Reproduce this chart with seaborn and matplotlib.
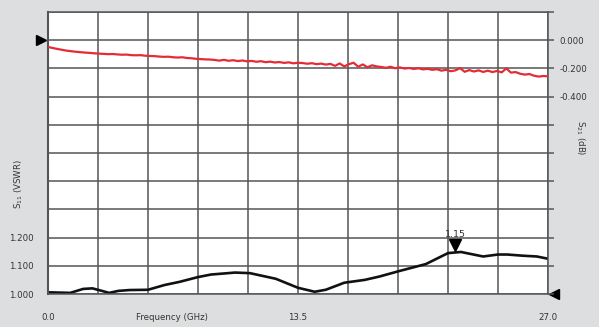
import numpy as np
import pandas as pd
import matplotlib
matplotlib.use("Agg")
import matplotlib.pyplot as plt
import matplotlib.transforms as mtransforms
import seaborn as sns

# ---------------- data ----------------
# S21 (dB), sampled every 0.25 GHz from 0 to 27 GHz
s21_step_ghz = 0.25
s21_db = [
    -0.048, -0.055, -0.062, -0.068, -0.074, -0.078, -0.082, -0.085, -0.088, -0.090, -0.093, -0.095,
    -0.097, -0.099, -0.098, -0.101, -0.103, -0.102, -0.106, -0.107, -0.106, -0.110, -0.112, -0.113,
    -0.116, -0.118, -0.117, -0.121, -0.123, -0.121, -0.126, -0.128, -0.132, -0.134, -0.136, -0.137,
    -0.140, -0.145, -0.139, -0.146, -0.142, -0.148, -0.144, -0.150, -0.147, -0.153, -0.149, -0.156,
    -0.152, -0.158, -0.155, -0.161, -0.157, -0.164, -0.160, -0.162, -0.167, -0.163, -0.170, -0.166,
    -0.173, -0.168, -0.182, -0.165, -0.186, -0.170, -0.160, -0.188, -0.172, -0.192, -0.178, -0.186,
    -0.190, -0.196, -0.188, -0.199, -0.193, -0.201, -0.197, -0.204, -0.199, -0.207, -0.203, -0.210,
    -0.206, -0.216, -0.210, -0.220, -0.214, -0.198, -0.224, -0.212, -0.222, -0.214, -0.225, -0.216,
    -0.226, -0.218, -0.228, -0.200, -0.230, -0.226, -0.238, -0.244, -0.240, -0.252, -0.258, -0.254, -0.256,
]
s21_freq = np.arange(len(s21_db)) * s21_step_ghz

# S11 (VSWR)
s11_freq = [0, 0.6, 1.2, 1.9, 2.4, 2.8, 3.3, 3.8, 4.4, 5.4, 6.3, 7.1, 8.1, 8.8, 10.1, 10.9,
            12.3, 13.5, 14.4, 15.0, 16.0, 17.1, 17.9, 19.0, 20.4, 21.6, 22.3, 23.5, 24.3,
            24.8, 25.6, 26.4, 27.0]
s11_vswr = [1.006, 1.005, 1.004, 1.018, 1.020, 1.013, 1.004, 1.011, 1.014, 1.015, 1.032,
            1.043, 1.060, 1.069, 1.076, 1.074, 1.054, 1.022, 1.008, 1.015, 1.040, 1.050,
            1.062, 1.082, 1.106, 1.145, 1.149, 1.133, 1.140, 1.140, 1.136, 1.133, 1.125]

marker_freq = 22.0
marker_value = 1.15
marker_label = "1.15"

x_ticklabels = {0.0: "0.0", 13.5: "13.5", 27.0: "27.0"}
left_ticklabels = {1.0: "1.000", 1.1: "1.100", 1.2: "1.200"}
right_ticklabels = {0.0: "0.000", -0.2: "-0.200", -0.4: "-0.400"}
x_label = "Frequency (GHz)"
left_label = r"S$_{\mathregular{11}}$ (VSWR)"
right_label = r"S$_{\mathregular{21}}$ (dB)"

# ---------------- style ----------------
sns.set_style("white")
plt.rcParams['font.family'] = ['DejaVu Sans']
plt.rcParams['mathtext.fontset'] = 'dejavusans'

FS = 6.2
BG = '#dcdedf'
GRID = '#555555'
TXT = '#333333'
RED = '#e42b36'

fig = plt.figure(figsize=(5.99, 3.27), dpi=100, facecolor=BG)
W, H = 599, 327
ax = fig.add_axes([48 / W, 1 - 294 / H, 500 / W, 282 / H])
ax.set_facecolor('white')

ax.set_xlim(0, 27)
ax.set_ylim(1.0, 2.0)
xt = np.linspace(0, 27, 11)
yt = np.linspace(1.0, 2.0, 11)
ax.set_xticks(xt)
ax.set_yticks(yt)
ax.set_xticklabels([x_ticklabels.get(round(v, 2), "") for v in xt])
ax.set_yticklabels([left_ticklabels.get(round(v, 2), "") for v in yt])
ax.grid(True, color=GRID, lw=1.1)
ax.set_axisbelow(True)
for s in ax.spines.values():
    s.set_color(GRID)
    s.set_linewidth(1.1)
ax.spines['left'].set_linewidth(1.5)
ax.tick_params(axis='x', length=5, width=1.1, color=GRID, direction='out',
               labelsize=FS, labelcolor=TXT, pad=9)
ax.tick_params(axis='y', length=0, labelsize=FS, labelcolor=TXT, pad=10)

sns.lineplot(x=s11_freq, y=s11_vswr, ax=ax, color='#111111', linewidth=1.9)

ax2 = ax.twinx()
ax2.set_ylim(-1.8, 0.2)
yt2 = np.linspace(-1.8, 0.2, 11)
ax2.set_yticks(yt2)
ax2.set_yticklabels([right_ticklabels.get(round(v, 2), "") for v in yt2])
ax2.tick_params(axis='y', length=4, width=1.1, color=GRID, direction='out',
                labelsize=FS, labelcolor=TXT, pad=4)
for s in ax2.spines.values():
    s.set_visible(False)
ax2.grid(False)
sns.lineplot(x=s21_freq, y=s21_db, ax=ax2, color=RED, linewidth=1.6)

# reference arrows
tr_left = mtransforms.offset_copy(
    mtransforms.blended_transform_factory(ax2.transAxes, ax2.transData), fig=fig, x=-7, y=0, units='dots')
ax2.plot([0], [0.0], marker='>', color='black', markersize=7, transform=tr_left, clip_on=False)
tr_right = mtransforms.offset_copy(
    mtransforms.blended_transform_factory(ax.transAxes, ax.transData), fig=fig, x=6, y=0, units='dots')
ax.plot([1], [1.0], marker='<', color='black', markersize=7, transform=tr_right, clip_on=False)

# marker on S11
tr_m = mtransforms.offset_copy(ax.transData, fig=fig, x=0, y=7, units='dots')
ax.plot([marker_freq], [marker_value], marker='v', color='black', markersize=8, transform=tr_m)
ax.annotate(marker_label, (marker_freq, marker_value), xytext=(0, 13), textcoords='offset pixels',
            ha='center', va='bottom', fontsize=FS + 0.6, color=TXT)

# labels
fig.text(172 / W, 1 - 318 / H, x_label, ha='center', va='center', fontsize=FS, color=TXT)
fig.text(19 / W, 1 - 184 / H, left_label, ha='center', va='center', rotation=90, fontsize=FS, color=TXT)
fig.text(580 / W, 1 - 138 / H, right_label, ha='center', va='center', rotation=270, fontsize=FS, color=TXT)

fig.savefig("out.png", dpi=100, facecolor=BG)
